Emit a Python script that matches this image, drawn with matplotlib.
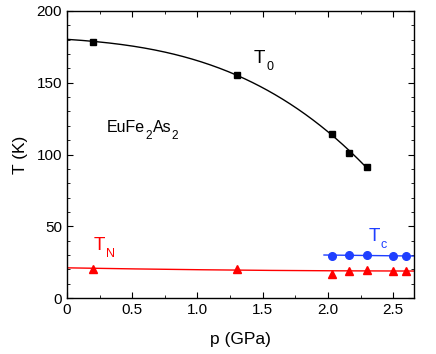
import numpy as np
import matplotlib
matplotlib.use("Agg")
import matplotlib.pyplot as plt
from matplotlib.ticker import MultipleLocator
from matplotlib.transforms import IdentityTransform

plt.rcParams['font.family'] = ['Liberation Sans', 'DejaVu Sans']

p_T0 = [0.2, 1.3, 2.03, 2.16, 2.3]
T0 = [178.5, 155.5, 114.5, 101.0, 91.5]
p_TN = [0.2, 1.3, 2.03, 2.16, 2.3, 2.5, 2.6]
TN = [20.5, 20.5, 17.0, 19.0, 19.5, 19.0, 19.0]
p_Tc = [2.03, 2.16, 2.3, 2.5, 2.6]
Tc = [29.5, 30.0, 30.0, 29.5, 29.0]

BLUE = '#1f3fff'

fig = plt.figure(figsize=(4.36, 3.54), dpi=100)
ax = fig.add_axes([67/436, 56/354, 347/436, 287/354])

# fitted guide curves
c0 = np.polyfit([0.0] + p_T0, [180.5] + T0, 3)
x0 = np.linspace(0, 2.3, 200)
ax.plot(x0, np.polyval(c0, x0), color='black', lw=1)
cN = np.polyfit(p_TN, TN, 2)
xN = np.linspace(0, 2.66, 200)
ax.plot(xN, np.polyval(cN, xN), color='red', lw=1)
cC = np.polyfit(p_Tc, Tc, 1)
xC = np.linspace(1.97, 2.66, 50)
ax.plot(xC, np.polyval(cC, xC), color=BLUE, lw=1)

ax.plot(p_T0, T0, 's', color='black', ms=5, clip_on=False)
ax.plot(p_TN, TN, '^', color='red', ms=6, clip_on=False)
ax.plot(p_Tc, Tc, 'o', color=BLUE, ms=5.5, clip_on=False)

ax.set_xlim(0, 2.66)
ax.set_ylim(0, 200)
ax.xaxis.set_major_locator(MultipleLocator(0.5))
ax.xaxis.set_minor_locator(MultipleLocator(0.25))
ax.yaxis.set_major_locator(MultipleLocator(50))
ax.yaxis.set_minor_locator(MultipleLocator(10))
ax.xaxis.set_major_formatter(plt.FuncFormatter(lambda v, _: '0' if v == 0 else f'{v:.1f}'))
ax.tick_params(which='both', direction='in', top=True, right=True, labelsize=11)
ax.tick_params(which='major', length=4)
ax.tick_params(which='minor', length=2)
for s in ax.spines.values():
    s.set_linewidth(1)

ax.set_xlabel('p (GPa)', fontsize=12.5, labelpad=11)
ax.set_ylabel('T (K)', fontsize=12.5, labelpad=6)

fig.canvas.draw()
renderer = fig.canvas.get_renderer()


def sub_text(x, y, parts, color='black', size=13.5, subsize=9, drop=7, gap=1):
    xd, yd = ax.transData.transform((x, y))
    for s, is_sub in parts:
        t = fig.text(xd, yd - (drop if is_sub else 0), s, fontsize=subsize if is_sub else size,
                     color=color, ha='left', va='baseline', transform=IdentityTransform())
        bb = t.get_window_extent(renderer)
        xd = bb.x1 + gap


sub_text(1.434, 163.8, [('T', False), ('0', True)])
sub_text(0.307, 115.5, [('EuFe', False), ('2', True), ('As', False), ('2', True)],
         size=11.5, subsize=8.5, drop=7, gap=0.5)
sub_text(0.207, 33.4, [('T', False), ('N', True)], color='red')
sub_text(2.31, 39.7, [('T', False), ('c', True)], color=BLUE)

fig.savefig('out.png', dpi=100)
